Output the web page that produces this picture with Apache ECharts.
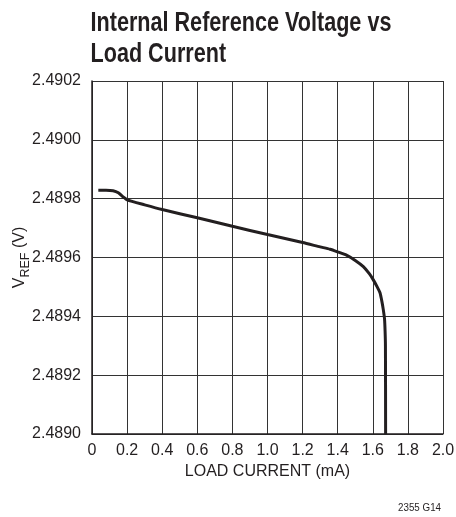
<!DOCTYPE html>
<html>
<head>
<meta charset="utf-8">
<script src="https://cdn.jsdelivr.net/npm/echarts@6/dist/echarts.min.js"></script>
<style>html,body{margin:0;padding:0;background:#fff}#c{width:456px;height:517px}</style>
</head>
<body>
<div id="c"></div>
<script>
var titleText = 'Internal Reference Voltage vs\nLoad Current';
var noteText = '2355 G14';
var xName = 'LOAD CURRENT (mA)';
var yName = '{a|V}{b|REF}{a| (V)}';
var xTicks = ['0', '0.2', '0.4', '0.6', '0.8', '1.0', '1.2', '1.4', '1.6', '1.8', '2.0'];
var yTicks = ['2.4890', '2.4892', '2.4894', '2.4896', '2.4898', '2.4900', '2.4902'];
var loadCurrent = [0.036, 0.08, 0.12, 0.15, 0.18, 0.2, 0.3, 0.4, 0.6, 0.8, 1.0, 1.2, 1.3, 1.356, 1.40, 1.45, 1.50, 1.546, 1.58, 1.603, 1.625, 1.641, 1.652, 1.66, 1.667, 1.670, 1.672, 1.673];
var vref = [2.489829, 2.489829, 2.489827, 2.489820, 2.489805, 2.489796, 2.489779, 2.489763, 2.489735, 2.489706, 2.489678, 2.489651, 2.489636, 2.489628, 2.489619, 2.489608, 2.489590, 2.489569, 2.489545, 2.489524, 2.489500, 2.489480, 2.489450, 2.489422, 2.489390, 2.489350, 2.489300, 2.489000];

var FONT = '"Liberation Sans", Arial, sans-serif';
var INK = '#231f20';
var pts = loadCurrent.map(function (x, i) { return [x, vref[i]]; });
var chart = echarts.init(document.getElementById('c'));
chart.setOption({
  animation: false,
  backgroundColor: '#fff',
  graphic: [{
    type: 'text', x: 90.5, y: 8, scaleX: 0.80, scaleY: 1,
    style: { text: titleText, fontFamily: FONT, fontSize: 27, fontWeight: 'bold', lineHeight: 31, fill: INK, verticalAlign: 'top', align: 'left' }
  }, {
    type: 'text', x: 441, y: 502, scaleX: 0.85,
    style: { text: noteText, fontFamily: FONT, fontSize: 11.5, fill: INK, align: 'right', verticalAlign: 'top' }
  }, {
    type: 'text', x: 17, y: 257.5, rotation: Math.PI / 2,
    style: {
      text: yName, align: 'center', verticalAlign: 'middle',
      rich: {
        a: { fontFamily: FONT, fontSize: 16, fill: INK, lineHeight: 22, verticalAlign: 'bottom' },
        b: { fontFamily: FONT, fontSize: 12.5, fill: INK, lineHeight: 22, verticalAlign: 'bottom', padding: [0, 0, -4, 0] }
      }
    }
  }],
  grid: { left: 92, right: 13, top: 81, bottom: 83, containLabel: false, outerBoundsMode: 'none' },
  xAxis: {
    type: 'value', min: 0, max: 2, interval: 0.2,
    name: xName, nameLocation: 'middle', nameGap: 30,
    nameTextStyle: { fontFamily: FONT, fontSize: 16, color: INK },
    axisLine: { show: true, onZero: false, lineStyle: { color: INK, width: 1.5 } },
    axisTick: { show: false },
    axisLabel: {
      margin: 9, fontFamily: FONT, fontSize: 16, color: INK,
      formatter: function (v) { var i = Math.round(v / 0.2); return xTicks[i] || ''; }
    },
    splitLine: { show: true, lineStyle: { color: '#333', width: 1 } }
  },
  yAxis: {
    type: 'value', min: 2.489, max: 2.4902, interval: 0.0002,
    axisLine: { show: true, lineStyle: { color: INK, width: 1.5 } },
    axisTick: { show: false },
    axisLabel: {
      margin: 11, fontFamily: FONT, fontSize: 16, color: INK,
      formatter: function (v) { var i = Math.round((v - 2.489) / 0.0002); return yTicks[i] || ''; }
    },
    splitLine: { show: true, lineStyle: { color: '#333', width: 1 } }
  },
  series: [{
    type: 'line', data: pts, showSymbol: false, symbol: 'none', smooth: 0.2,
    lineStyle: { color: INK, width: 3 }, clip: true
  }]
});
</script>
</body>
</html>
